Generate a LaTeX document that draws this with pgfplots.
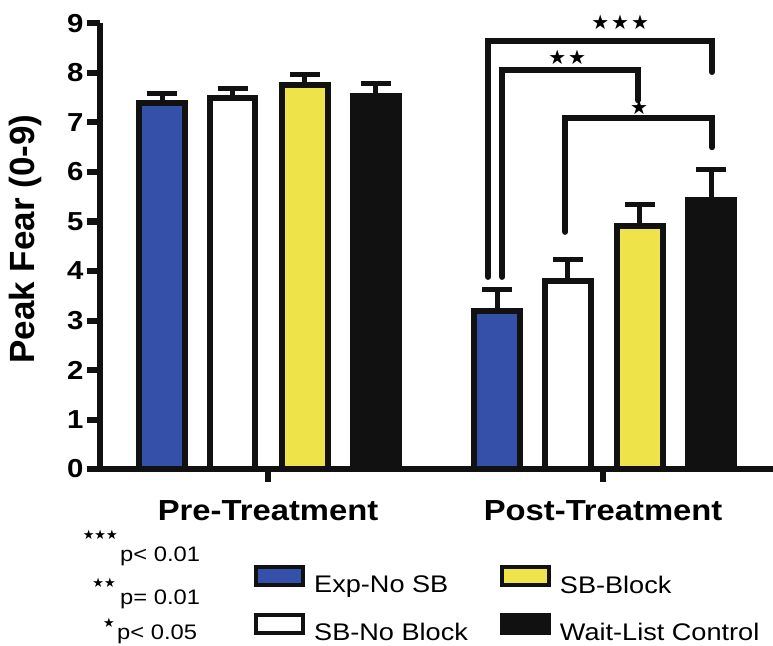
\documentclass[border=0pt]{standalone}
\usepackage{pgfplots}
\pgfplotsset{compat=1.18}
\usepackage{pgfplotstable}
\usepackage{fontspec}
\setmainfont{Liberation Sans}
\newfontfamily\wf[FakeStretch=1.13]{Liberation Sans}
\newfontfamily\djv{DejaVu Sans}
\definecolor{cblue}{RGB}{53,80,168}
\definecolor{cyellow}{RGB}{238,228,74}
\definecolor{cblack}{RGB}{17,17,17}

% x = position (0 = Pre-Treatment, 1 = Post-Treatment, with offsets), y = mean, e = error (plus)
\pgfplotstableread{
x y e
-0.316 7.39 0.19
0.684 3.19 0.43
}\tblue
\pgfplotstableread{
x y e
0.110 7.76 0.20
1.110 4.91 0.44
}\tyellow
\pgfplotstableread{
x y e
-0.106 7.49 0.20
0.894 3.80 0.44
}\twhite
\pgfplotstableread{
x y e
0.322 7.54 0.25
1.322 5.43 0.63
}\tblack

\pgfplotsset{
  mybar/.style={ybar, bar width=0.137, bar shift=0pt, draw=cblack, line width=6pt,
    error bars/.cd, y dir=plus, y explicit,
    error bar style={line width=5pt, cblack},
    error mark options={rotate=90, line width=5pt, mark size=15pt, cblack},
    /pgfplots/.cd,
    legend image code/.code={\draw[#1, line width=4pt] (0pt,0pt) rectangle (47pt,18pt);}},
}

\begin{document}
\begin{tikzpicture}
\path[use as bounding box] (0,0) rectangle (773pt,645pt);
\begin{axis}[
  at={(100pt,176pt)}, anchor=south west,
  scale only axis, width=673pt, height=445.5pt,
  xmin=-0.5015, xmax=1.507, ymin=0, ymax=9,
  enlargelimits=false, clip=false,
  axis x line*=bottom, axis y line*=left,
  axis line style={line width=6pt, -, cblack},
  ytick={0,1,...,9}, xtick={0,1},
  xticklabels={Pre-Treatment,Post-Treatment},
  minor tick num=0,
  tick align=outside, major tick length=13pt,
  tick style={line width=6pt, cblack},
  /pgf/number format/assume math mode=true,
  yticklabel style={font=\wf\bfseries\fontsize{26}{26}\selectfont},
  xticklabel style={font=\wf\bfseries\fontsize{29}{29}\selectfont, yshift=-15pt},
  ylabel={Peak Fear (0-9)},
  every axis y label/.style={at={(axis description cs:-0.1114,0.516)}, rotate=90, anchor=center,
     font=\bfseries\fontsize{35}{35}\selectfont},
  legend columns=2,
  legend style={at={(axis description cs:0.2288,-0.2155)}, anchor=north west,
     draw=none, fill=none, inner sep=0pt,
     font=\wf\fontsize{24}{24}\selectfont,
     nodes={inner sep=0pt},
     row sep=18pt,
     /tikz/every odd column/.append style={column sep=9pt},
     /tikz/every even column/.append style={column sep=32pt}},
  legend cell align=left,
]
\addplot[mybar, fill=cblue] table[x=x, y=y, y error=e] {\tblue};
\addlegendentry{Exp-No SB}
\addplot[mybar, fill=cyellow] table[x=x, y=y, y error=e] {\tyellow};
\addlegendentry{SB-Block}
\addplot[mybar, fill=white] table[x=x, y=y, y error=e] {\twhite};
\addlegendentry{SB-No Block}
\addplot[mybar, fill=cblack] table[x=x, y=y, y error=e] {\tblack};
\addlegendentry{Wait-List Control}

% significance brackets
\draw[line width=6pt, cblack, line cap=round] (axis cs:0.657,3.88) |- (axis cs:1.325,8.65) -- (axis cs:1.325,8.02);
\draw[line width=6pt, cblack, line cap=round] (axis cs:0.699,3.88) |- (axis cs:1.104,8.06) -- (axis cs:1.104,7.45);
\draw[line width=6pt, cblack, line cap=round] (axis cs:0.887,4.79) |- (axis cs:1.325,7.09) -- (axis cs:1.325,6.50);
\node[font=\djv\fontsize{20}{20}\selectfont, inner sep=0pt] at (axis cs:1.051,9.03) {★\kern2pt★\kern2pt★};
\node[font=\djv\fontsize{20}{20}\selectfont, inner sep=0pt] at (axis cs:0.893,8.32) {★\kern2pt★};
\node[font=\djv\fontsize{20}{20}\selectfont, inner sep=0pt] at (axis cs:1.107,7.31) {★};
\end{axis}
% p-value notes
\node[font=\djv\fontsize{13}{13}\selectfont, inner sep=0pt, anchor=east] at (118pt,110pt) {★★★};
\node[font=\wf\fontsize{21}{21}\selectfont, inner sep=0pt, anchor=base west] at (120pt,83.5pt) {p< 0.01};
\node[font=\djv\fontsize{13}{13}\selectfont, inner sep=0pt, anchor=east] at (116pt,62pt) {★★};
\node[font=\wf\fontsize{21}{21}\selectfont, inner sep=0pt, anchor=base west] at (120pt,40.5pt) {p= 0.01};
\node[font=\djv\fontsize{13}{13}\selectfont, inner sep=0pt, anchor=east] at (115pt,22pt) {★};
\node[font=\wf\fontsize{21}{21}\selectfont, inner sep=0pt, anchor=base west] at (117pt,5.5pt) {p< 0.05};
\end{tikzpicture}
\end{document}
